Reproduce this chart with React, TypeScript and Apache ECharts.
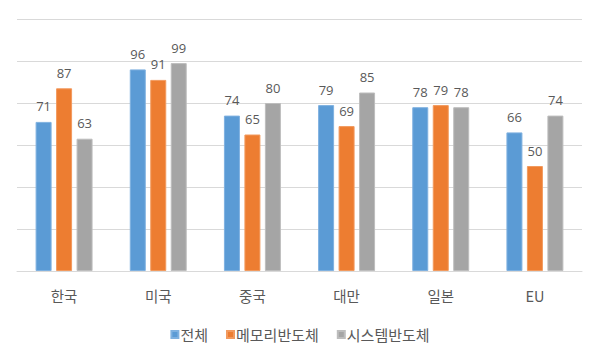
import React, { useEffect, useRef } from "react";
import * as echarts from "echarts";

const categories = ["한국", "미국", "중국", "대만", "일본", "EU"];
const seriesNames = ["전체", "메모리반도체", "시스템반도체"];
const totalValues = [71, 96, 74, 79, 78, 66];
const memoryValues = [87, 91, 65, 69, 79, 50];
const systemValues = [63, 99, 80, 85, 78, 74];
const colors = ["#5B9BD5", "#ED7D31", "#A5A5A5"];
const borderColors = ["#7FB1E0", "#F29A5E", "#BDBDBD"];

const FONT = "'Noto Sans CJK KR', 'Noto Sans', sans-serif";

export default function App() {
  const ref = useRef<HTMLDivElement>(null);
  useEffect(() => {
    if (!ref.current) return;
    const chart = echarts.init(ref.current, undefined, { renderer: "svg" });
    const data = [totalValues, memoryValues, systemValues];
    chart.setOption({
      animation: false,
      backgroundColor: "#ffffff",
      grid: { left: 17, right: 18, top: 19, bottom: 89 },
      legend: {
        data: seriesNames,
        top: 322,
        left: "center",
        icon: "rect",
        itemWidth: 7,
        itemHeight: 7,
        itemGap: 18,
        textStyle: { color: "#595959", fontSize: 15, fontFamily: FONT, padding: [0, 0, 0, -3] },
      },
      xAxis: {
        type: "category",
        data: categories,
        axisLine: { show: true, lineStyle: { color: "#D9D9D9", width: 1 } },
        axisTick: { show: false },
        axisLabel: { color: "#595959", fontSize: 14.5, fontFamily: FONT, margin: 17 },
      },
      yAxis: {
        type: "value",
        min: 0,
        max: 120,
        interval: 20,
        axisLabel: { show: false },
        axisLine: { show: false },
        axisTick: { show: false },
        splitLine: { lineStyle: { color: "#D9D9D9", width: 1 } },
      },
      series: seriesNames.map((name, i) => ({
        name,
        type: "bar",
        data: data[i],
        barWidth: 16,
        barGap: "28%",
        itemStyle: { color: colors[i], borderColor: borderColors[i], borderWidth: 1 },
        label: {
          show: true,
          position: "top",
          distance: 9,
          color: "#595959",
          fontSize: 13,
          lineHeight: 13,
          fontFamily: "'Open Sans', 'Noto Sans', sans-serif",
        },
      })),
    });
    return () => chart.dispose();
  }, []);
  return <div ref={ref} style={{ width: 600, height: 360, margin: -8 }} />;
}
